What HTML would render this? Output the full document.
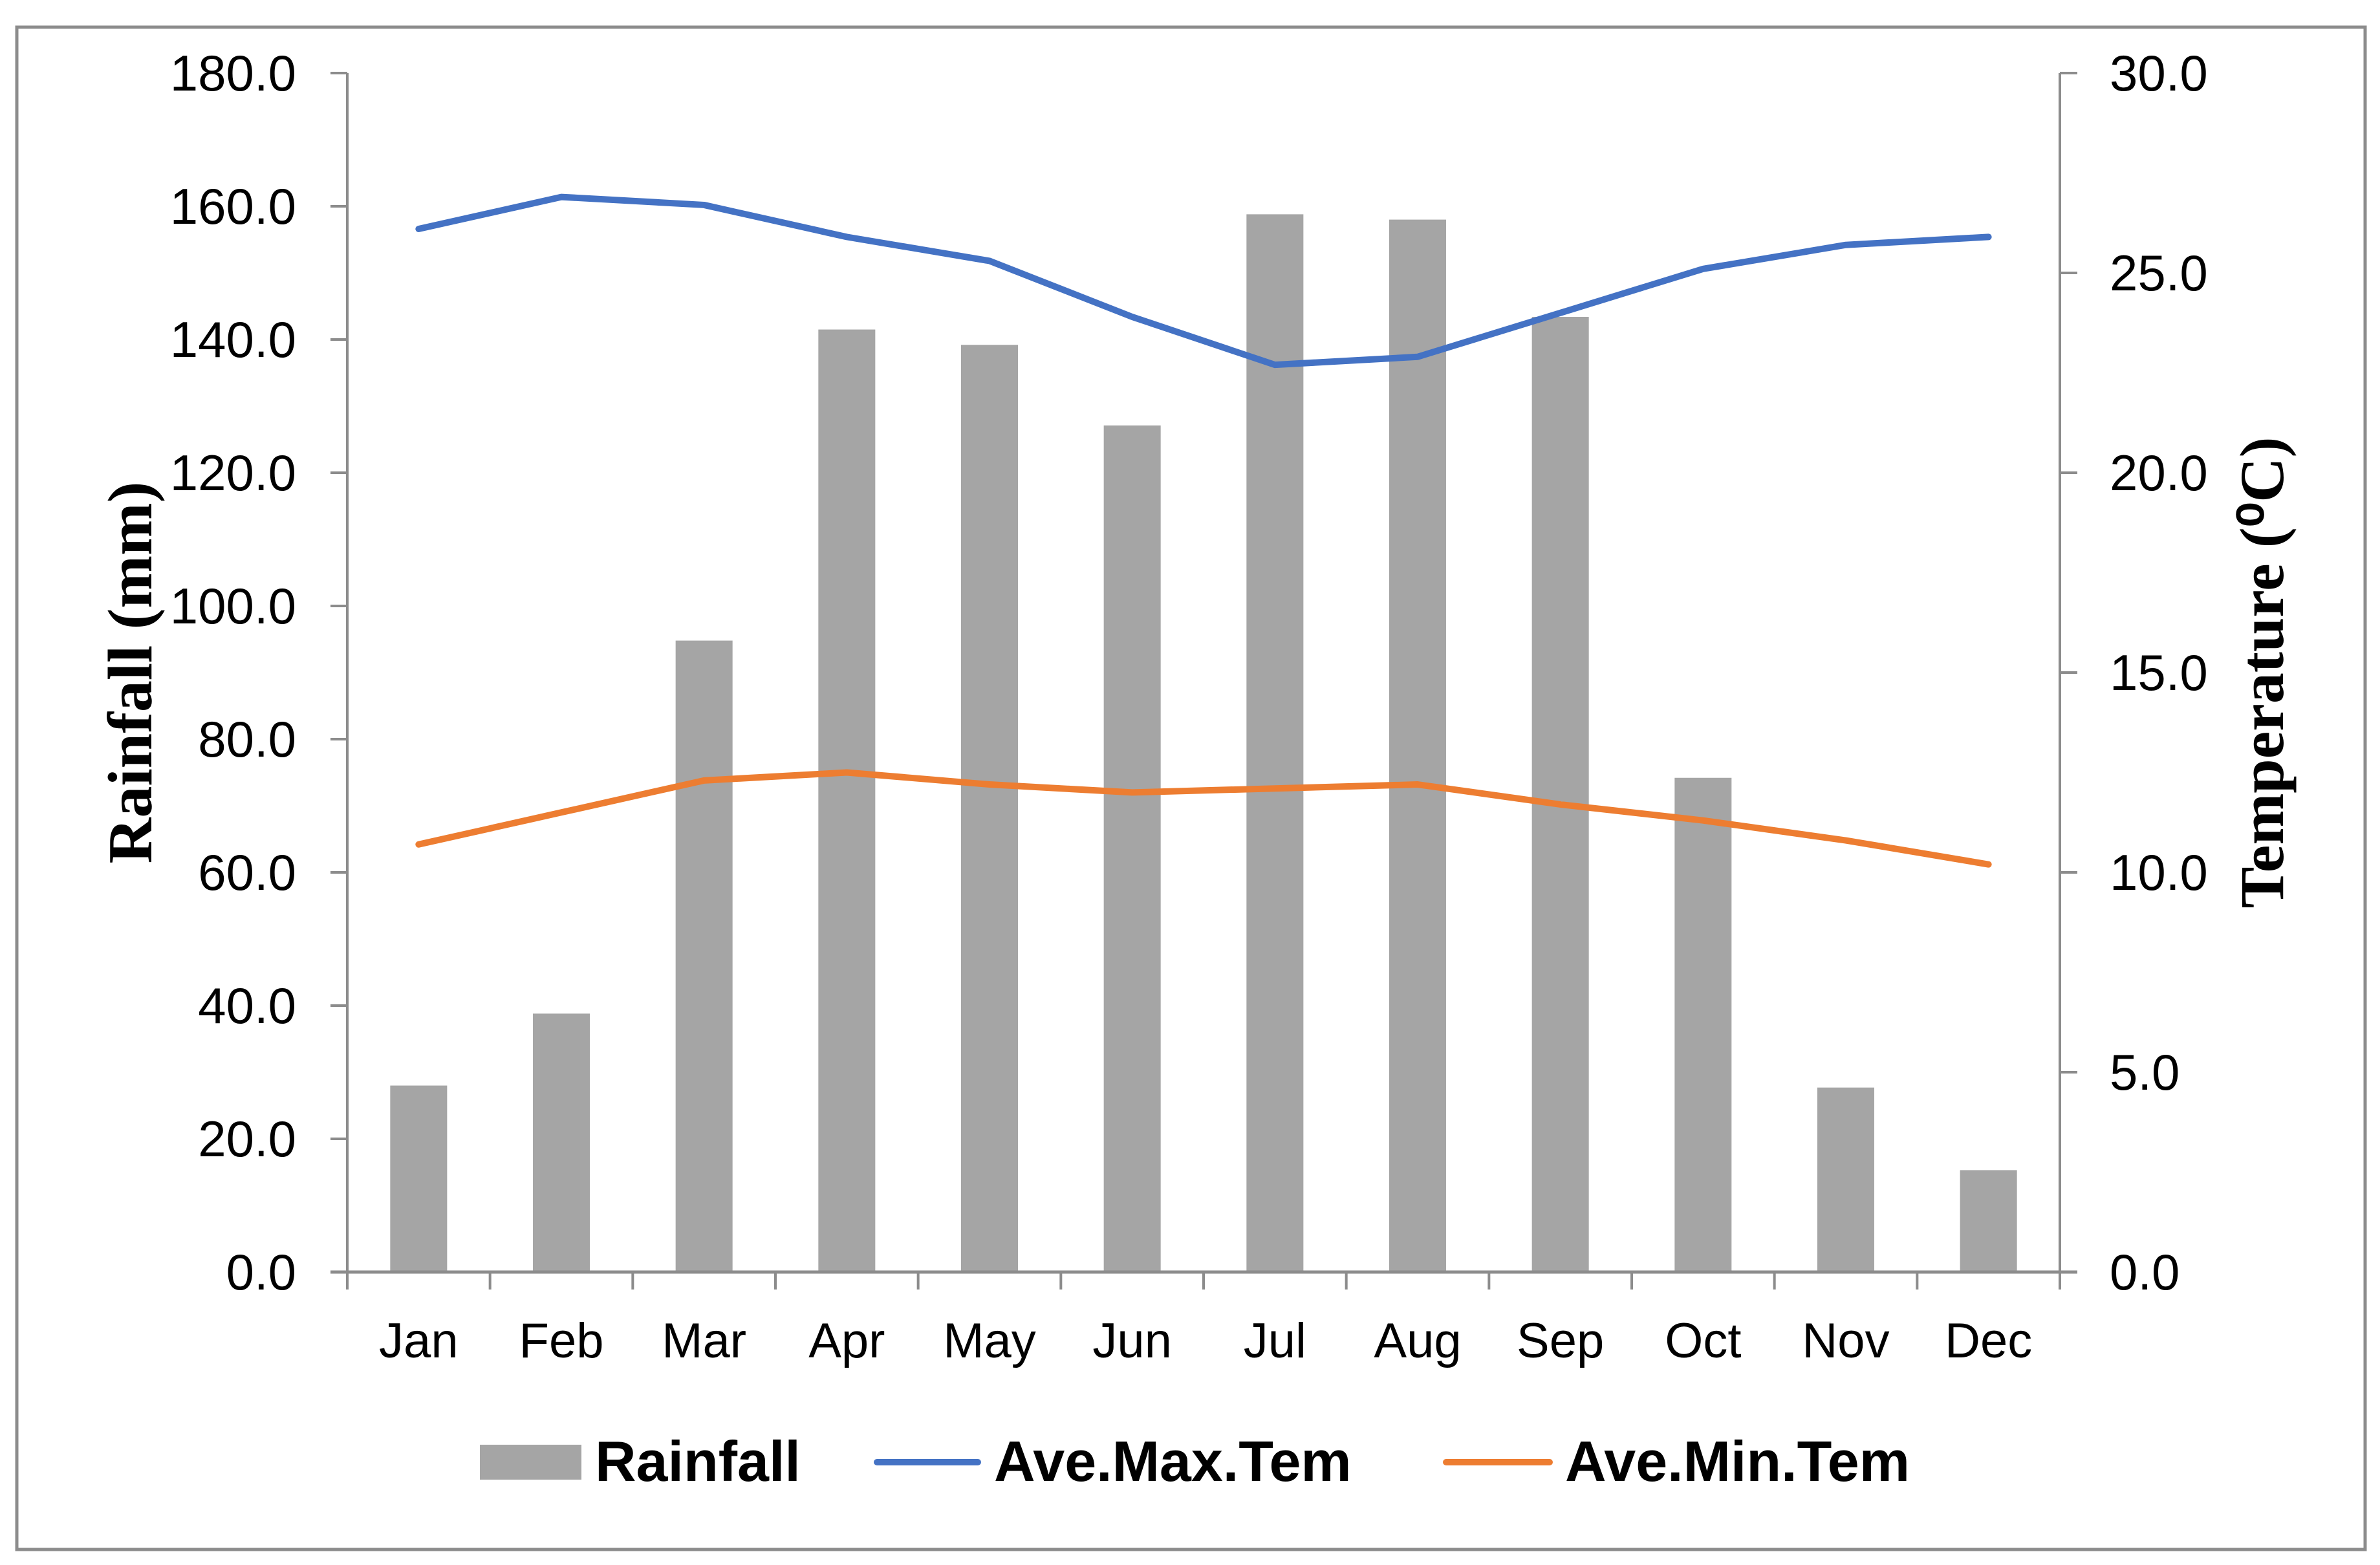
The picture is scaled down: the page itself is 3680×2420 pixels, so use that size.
<!DOCTYPE html>
<html><head><meta charset="utf-8"><style>
html,body{margin:0;padding:0;background:#fff;}
svg{display:block;}
text{font-family:"Liberation Sans",sans-serif;fill:#000;}
</style></head><body>
<svg id="chart" width="3680" height="2420" viewBox="0 0 3680 2420" xmlns="http://www.w3.org/2000/svg">
<rect x="26" y="42" width="3631" height="2354" fill="#fff" stroke="#8c8c8c" stroke-width="5"/>
<g id="bars"></g>
<g id="lines"></g>
<g id="axes"></g>
<text transform="translate(234,1040) rotate(-90)" text-anchor="middle" style="font-family:'Liberation Serif',serif;font-weight:bold;font-size:98px">Rainfall (mm)</text>
<text transform="translate(3530,1040) rotate(-90)" text-anchor="middle" style="font-family:'Liberation Serif',serif;font-weight:bold;font-size:96px">Temperature (⁰C)</text>
<g>
<rect x="742" y="2234" width="157" height="54" fill="#a5a5a5"/>
<text x="920" y="2290" style="font-weight:bold;font-size:88px">Rainfall</text>
<line x1="1356" y1="2261" x2="1512" y2="2261" stroke="#4472c4" stroke-width="10" stroke-linecap="round"/>
<text x="1537" y="2290" style="font-weight:bold;font-size:88px">Ave.Max.Tem</text>
<line x1="2236" y1="2261" x2="2396" y2="2261" stroke="#ed7d31" stroke-width="10" stroke-linecap="round"/>
<text x="2420" y="2290" style="font-weight:bold;font-size:88px">Ave.Min.Tem</text>
</g>
</svg>
<script>
const months = ["Jan","Feb","Mar","Apr","May","Jun","Jul","Aug","Sep","Oct","Nov","Dec"];
const rainfall = [28.0,38.8,94.8,141.5,139.2,127.1,158.8,158.0,143.4,74.2,27.7,15.3];
const maxTemp = [26.1,26.9,26.7,25.9,25.3,23.9,22.7,22.9,24.0,25.1,25.7,25.9];
const minTemp = [10.7,11.5,12.3,12.5,12.2,12.0,12.1,12.2,11.7,11.3,10.8,10.2];
const leftTicks = ["0.0","20.0","40.0","60.0","80.0","100.0","120.0","140.0","160.0","180.0"];
const rightTicks = ["0.0","5.0","10.0","15.0","20.0","25.0","30.0"];

const NS="http://www.w3.org/2000/svg";
const X0=537,X1=3185,Y0=1967,Y1=113;
const bw=(X1-X0)/months.length;
const yL=v=>Y0-(v/180)*(Y0-Y1);
const yR=v=>Y0-(v/30)*(Y0-Y1);
const xC=i=>X0+bw*(i+0.5);
function mk(tag,attrs,parent){const e=document.createElementNS(NS,tag);for(const k in attrs)e.setAttribute(k,attrs[k]);parent.appendChild(e);return e;}
const bars=document.getElementById('bars'),lines=document.getElementById('lines'),axes=document.getElementById('axes');

rainfall.forEach((v,i)=>{
  const r=mk('rect',{x:xC(i)-44,y:yL(v),width:88,height:Y0-yL(v),fill:'#a5a5a5'},bars);
  
  
});
function line(arr,color,name){
  const p=mk('polyline',{points:arr.map((v,i)=>xC(i)+','+yR(v)).join(' '),fill:'none',stroke:color,'stroke-width':10,'stroke-linejoin':'round','stroke-linecap':'round'},lines);
  
  
}
line(maxTemp,'#4472c4','max-temp-line');
line(minTemp,'#ed7d31','min-temp-line');

const ax='#8c8c8c';
let a=mk('line',{x1:X0,y1:Y1,x2:X0,y2:Y0,stroke:ax,'stroke-width':4},axes);


a=mk('line',{x1:X1,y1:Y1,x2:X1,y2:Y0,stroke:ax,'stroke-width':4},axes);


a=mk('line',{x1:X0-26,y1:Y0,x2:X1+27,y2:Y0,stroke:ax,'stroke-width':5},axes);



leftTicks.forEach((t,i)=>{
  const y=yL(i*20);
  mk('line',{x1:X0-26,y1:y,x2:X0,y2:y,stroke:ax,'stroke-width':4},axes);
  const tx=mk('text',{x:458,y:y+27,'text-anchor':'end','font-size':78},axes);
  tx.textContent=t;
  
  
});
rightTicks.forEach((t,i)=>{
  const y=yR(i*5);
  mk('line',{x1:X1,y1:y,x2:X1+27,y2:y,stroke:ax,'stroke-width':4},axes);
  const tx=mk('text',{x:3262,y:y+27,'text-anchor':'start','font-size':78},axes);
  tx.textContent=t;
  
  
});
for(let i=0;i<=months.length;i++){
  const x=X0+bw*i;
  mk('line',{x1:x,y1:Y0,x2:x,y2:Y0+27,stroke:ax,'stroke-width':4},axes);
}
months.forEach((m,i)=>{
  const tx=mk('text',{x:xC(i),y:2099,'text-anchor':'middle','font-size':76},axes);
  tx.textContent=m;
  
  
});
</script>
</body></html>
